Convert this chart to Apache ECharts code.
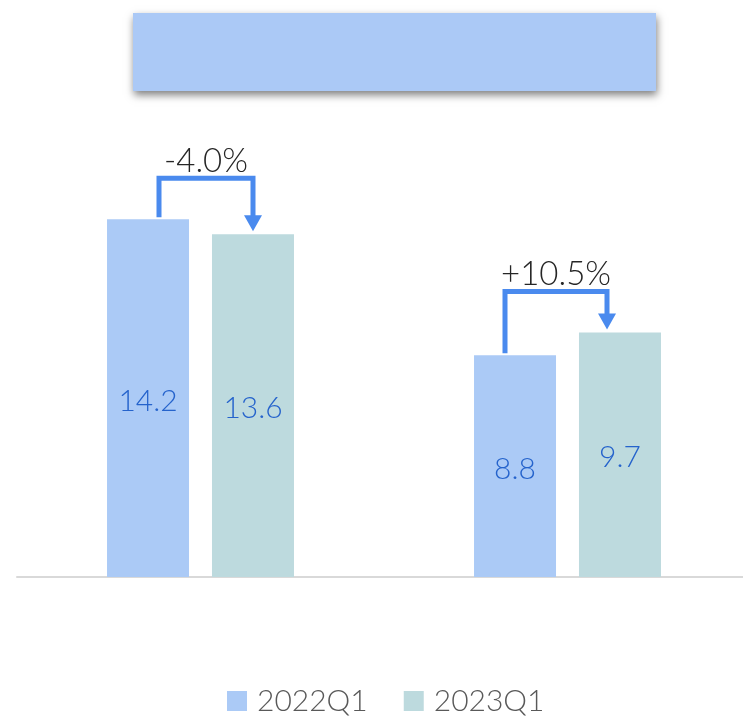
<!DOCTYPE html>
<html>
<head>
<meta charset="utf-8">
<script src="https://cdn.jsdelivr.net/npm/echarts@6/dist/echarts.min.js"></script>
<style>
  html, body { margin: 0; padding: 0; background: #fff; }
  #chart { width: 743px; height: 721px; }
</style>
</head>
<body>
<div id="chart"></div>
<script>
// data
const categories = ['A', 'B']
const seriesNames = ['2022Q1', '2023Q1']
const values2022 = [14.2, 8.8]
const values2023 = [13.6, 9.7]
const changeLabels = ['-4.0%', '+10.5%']

const FONT = 'Lato, "Noto Sans", sans-serif'
const BAR_W = 82
const BAR_GAP = 23
const ARROW = '#4a8aee'

// small per-group nudges of the bracket legs (px), as seen in the picture
const legNudge = [[11, 0], [-10, -13]]

const chart = echarts.init(document.getElementById('chart'), null, { renderer: 'canvas' })

function renderBracket(params, api) {
  const i = api.value(0)
  const a = api.value(1)
  const b = api.value(2)
  const half = (BAR_W + BAR_GAP) / 2
  const pa = api.coord([i, a])
  const pb = api.coord([i, b])
  const pTop = api.coord([i, Math.max(a, b)])
  const x1 = pa[0] - half + legNudge[i][0]
  const x2 = pb[0] + half + legNudge[i][1]
  const yLine = pTop[1] - 41
  const tipY = pb[1] - 3
  const headH = 16
  return {
    type: 'group',
    children: [
      {
        type: 'polyline',
        shape: { points: [[x1, pa[1] - 2], [x1, yLine], [x2, yLine], [x2, tipY - headH + 1]] },
        style: { stroke: ARROW, lineWidth: 5, fill: null, lineJoin: 'miter' },
      },
      {
        type: 'polygon',
        shape: { points: [[x2 - 9, tipY - headH], [x2 + 9, tipY - headH], [x2, tipY]] },
        style: { fill: ARROW },
      },
      {
        type: 'text',
        style: {
          text: changeLabels[i],
          x: (x1 + x2) / 2,
          y: yLine - 17,
          align: 'center',
          verticalAlign: 'middle',
          fill: '#262626',
          font: '300 33px ' + FONT,
        },
      },
    ],
  }
}

const option = {
  backgroundColor: '#fff',
  animation: false,
  graphic: [
    {
      type: 'rect',
      left: 133,
      top: 13,
      shape: { width: 523, height: 78 },
      style: {
        fill: '#abc9f6',
        shadowBlur: 8,
        shadowOffsetX: 1,
        shadowOffsetY: 4,
        shadowColor: 'rgba(0,0,0,0.5)',
      },
    },
  ],
  grid: { left: 17, right: -8, top: 73, bottom: 144, outerBoundsMode: 'none' },
  legend: {
    data: seriesNames,
    left: 227,
    top: 686,
    padding: 0,
    itemWidth: 20,
    itemHeight: 20,
    itemGap: 36,
    icon: 'rect',
    textStyle: { color: '#595959', fontSize: 30, fontFamily: FONT, fontWeight: 300, padding: [0, 0, 0, 5] },
  },
  xAxis: {
    type: 'category',
    data: categories,
    axisLine: { lineStyle: { color: '#d9d9d9', width: 2 } },
    axisTick: { show: false },
    axisLabel: { show: false },
  },
  yAxis: {
    type: 'value',
    min: 0,
    max: 20,
    show: false,
    splitLine: { show: false },
  },
  series: [
    {
      name: seriesNames[0],
      type: 'bar',
      data: values2022,
      barWidth: BAR_W,
      barGap: (BAR_GAP / BAR_W * 100).toFixed(1) + '%',
      itemStyle: { color: '#abcaf6' },
      label: { show: true, position: 'inside', offset: [0, 3], color: '#2563cc', fontSize: 30, fontFamily: FONT, fontWeight: 300 },
    },
    {
      name: seriesNames[1],
      type: 'bar',
      data: values2023,
      barWidth: BAR_W,
      itemStyle: { color: '#bddade' },
      label: { show: true, position: 'inside', offset: [0, 3], color: '#2563cc', fontSize: 30, fontFamily: FONT, fontWeight: 300 },
    },
    {
      type: 'custom',
      renderItem: renderBracket,
      data: categories.map((c, i) => [i, values2022[i], values2023[i]]),
      z: 5,
      silent: true,
    },
  ],
}

chart.setOption(option)
window.addEventListener('resize', () => chart.resize())
</script>
</body>
</html>
